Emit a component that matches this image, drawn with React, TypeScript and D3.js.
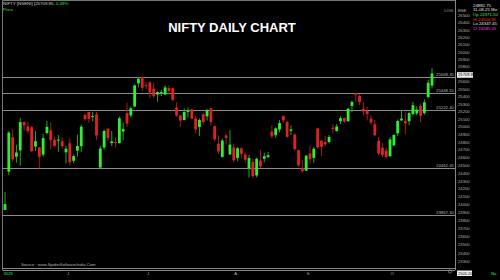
import React from "react";
import * as d3 from "d3";

const dates = [
  "2025-05-09","2025-05-12","2025-05-13","2025-05-14","2025-05-15","2025-05-16","2025-05-19","2025-05-20","2025-05-21","2025-05-22","2025-05-23","2025-05-26","2025-05-27","2025-05-28","2025-05-29","2025-05-30",
  "2025-06-02","2025-06-03","2025-06-04","2025-06-05","2025-06-06","2025-06-09","2025-06-10","2025-06-11","2025-06-12","2025-06-13","2025-06-16","2025-06-17","2025-06-18","2025-06-19","2025-06-20","2025-06-23","2025-06-24","2025-06-25","2025-06-26","2025-06-27","2025-06-30",
  "2025-07-01","2025-07-02","2025-07-03","2025-07-04","2025-07-07","2025-07-08","2025-07-09","2025-07-10","2025-07-11","2025-07-14","2025-07-15","2025-07-16","2025-07-17","2025-07-18","2025-07-21","2025-07-22","2025-07-23","2025-07-24","2025-07-25","2025-07-28","2025-07-29","2025-07-30","2025-07-31",
  "2025-08-01","2025-08-04","2025-08-05","2025-08-06","2025-08-07","2025-08-08","2025-08-11","2025-08-12","2025-08-13","2025-08-14","2025-08-18","2025-08-19","2025-08-20","2025-08-21","2025-08-22","2025-08-25","2025-08-26","2025-08-28","2025-08-29",
  "2025-09-01","2025-09-02","2025-09-03","2025-09-04","2025-09-05","2025-09-08","2025-09-09","2025-09-10","2025-09-11","2025-09-12","2025-09-15","2025-09-16","2025-09-17","2025-09-18","2025-09-19","2025-09-22","2025-09-23","2025-09-24","2025-09-25","2025-09-26","2025-09-29","2025-09-30",
  "2025-10-01","2025-10-03","2025-10-06","2025-10-07","2025-10-08","2025-10-09","2025-10-10","2025-10-13","2025-10-14","2025-10-15","2025-10-16","2025-10-17"
];

const opens = [
  23935.75,24420.10,24864.05,24613.80,24694.45,25064.65,25005.35,24996.20,24744.25,24733.95,24639.50,24919.35,24956.65,24832.50,24825.10,24812.60,
  24669.70,24786.30,24560.45,24691.20,24748.70,25160.10,25196.05,25134.15,25164.45,24473.00,24732.35,24977.85,24788.35,24803.25,24787.65,24939.75,25179.90,25150.35,25268.95,25576.65,25661.65,
  25551.35,25588.30,25505.10,25428.85,25450.45,25427.85,25514.60,25511.65,25255.50,25149.50,25089.50,25196.60,25230.75,25108.55,24999.00,25166.65,25139.35,25243.30,25010.35,24782.45,24609.65,24890.40,24642.25,
  24734.90,24596.65,24720.25,24641.35,24464.20,24544.25,24371.50,24563.35,24586.20,24607.25,24938.20,24891.35,24965.80,25142.00,25064.15,24949.15,24899.50,24695.80,24466.70,
  24432.70,24653.00,24596.95,24980.75,24818.85,24802.60,24802.75,24991.00,24945.50,25074.45,25118.90,25073.60,25276.60,25441.05,25410.20,25238.10,25209.00,25108.75,25034.50,24818.55,24728.55,24691.95,
  24620.55,24759.80,24916.55,25085.30,25079.75,25074.30,25167.65,25177.20,25276.85,25181.95,25394.20,25546.85
];

const highs = [
  24164.25,24944.80,24973.80,24767.55,25116.25,25070.00,25062.95,25010.35,24946.20,24737.50,24909.05,25079.20,25062.90,24864.25,24892.60,24863.95,
  24754.40,24845.10,24644.25,24899.85,25029.50,25160.10,25199.30,25196.20,25196.20,24754.35,24967.10,24982.05,24947.55,24863.10,25136.20,25057.00,25317.70,25266.80,25565.30,25654.20,25669.35,
  25593.40,25608.10,25587.50,25470.25,25489.80,25548.05,25548.70,25524.05,25322.45,25151.10,25245.20,25255.30,25238.35,25144.60,25111.45,25182.00,25233.50,25246.25,25010.35,24889.20,24847.15,24902.30,24956.50,
  24784.15,24736.25,24733.10,24671.40,24634.20,24585.50,24600.85,24702.60,24664.10,24673.65,25022.00,24994.65,25088.70,25153.65,25084.00,25021.55,24919.65,24702.65,24572.65,
  24635.60,24756.10,24737.05,24980.75,24832.35,24885.50,24891.80,25035.70,25037.30,25139.45,25119.40,25251.55,25346.50,25448.95,25428.75,25331.70,25261.90,25149.85,25092.70,24868.60,24791.30,24731.80,
  24867.95,24904.80,25095.95,25220.90,25192.50,25199.25,25330.75,25267.30,25310.35,25365.55,25625.40,25781.50
];

const lows = [
  23935.75,24378.85,24547.50,24535.55,24494.45,24953.05,24916.65,24669.70,24685.35,24462.40,24614.05,24900.50,24704.10,24737.05,24677.30,24717.40,
  24526.15,24502.15,24530.45,24613.75,24671.45,25077.15,25055.45,25075.05,24825.90,24473.00,24703.60,24813.70,24750.45,24733.40,24783.65,24824.85,24999.70,25125.05,25259.90,25523.55,25473.30,
  25501.80,25378.75,25384.35,25331.65,25407.25,25424.15,25424.15,25340.45,25129.00,25001.95,25088.45,25121.05,25101.00,24918.65,24882.30,25035.55,25085.50,25018.70,24806.35,24646.60,24598.60,24771.95,24635.00,
  24535.05,24554.00,24590.30,24539.20,24344.15,24337.50,24347.45,24465.65,24539.30,24596.90,24852.00,24858.80,24929.70,25054.90,24859.15,24894.35,24689.60,24481.60,24404.70,
  24432.70,24522.35,24533.20,24708.60,24621.60,24751.55,24784.20,24915.05,24940.15,25038.05,25049.60,25070.30,25192.05,25329.25,25286.30,25151.05,25084.65,25027.45,24878.30,24629.45,24606.20,24587.70,
  24605.95,24747.55,24881.65,25076.30,24902.65,25024.30,25156.85,25152.30,25060.55,25159.35,25376.20,25508.60
];

const closes = [
  24008.00,24924.70,24578.35,24666.90,25062.10,25019.80,24945.45,24683.90,24813.45,24609.70,24853.15,25001.15,24826.20,24752.45,24833.60,24750.70,
  24716.60,24542.50,24620.20,24750.90,25003.05,25103.20,25104.25,25141.40,24888.20,24718.60,24946.50,24853.40,24812.05,24793.25,25112.40,24971.90,25044.35,25244.75,25549.00,25637.80,25517.05,
  25541.80,25453.40,25405.30,25461.00,25461.30,25522.50,25476.10,25355.25,25149.85,25082.30,25195.80,25212.05,25111.45,24968.40,25090.70,25060.90,25219.90,25062.10,24837.00,24680.90,24821.10,24855.05,24768.35,
  24565.35,24722.75,24649.55,24574.20,24596.15,24363.30,24585.05,24487.40,24619.35,24631.30,24876.95,24980.65,25050.55,25083.75,24870.10,24967.75,24712.05,24500.90,24426.85,
  24625.05,24579.60,24715.05,24734.30,24741.00,24773.15,24868.60,24973.10,25005.50,25114.00,25069.20,25239.10,25330.25,25423.60,25327.05,25202.35,25169.50,25056.90,24890.85,24654.70,24634.90,24611.10,
  24836.30,24894.25,25077.65,25108.30,25046.15,25181.80,25285.35,25227.35,25145.50,25323.55,25585.30,25709.85
];

const levelLines = [25668.35, 25448.55, 25222.40, 24462.45, 23867.30];
const monthLabels = ["J", "J", "A", "S", "O"];
const infoLines = ["24882.75", "11-08-25 Mo", "Op 24371.50", "Hi 24600.85", "Lo 24347.45", "Cl 24585.05"];
const infoColors = ["#e0e0e0", "#e0e0e0", "#3ee83e", "#e83030", "#e0e0e0", "#e040e0"];

const W = 500, H = 280;
const AXIS_X = 455;
const FONT = "Liberation Sans, Arial, sans-serif";

export default function App() {
  const n = dates.length;
  const x = d3.scaleLinear().domain([0, n - 1]).range([5, 432]);
  const y = d3.scaleLog().domain([23300, 26500]).range([261.3, 15.7]);
  const ticks = d3.range(23300, 26501, 100);
  const lastClose = closes[n - 1];
  const lastY = y(lastClose);
  const lastChg = ((closes[n - 1] - closes[n - 2]) / closes[n - 2]) * 100;

  const monthStarts: number[] = [];
  for (let i = 1; i < n; i++) {
    if (dates[i].slice(5, 7) !== dates[i - 1].slice(5, 7)) monthStarts.push(i);
  }

  const bw = 2.8;
  const up = "#2ef02e", dn = "#e02222";
  const upW = "#1fa81f", dnW = "#a81a1a";
  const lab = "#b4b4b4";

  return (
    <svg width={W} height={H} style={{ position: "absolute", left: 0, top: 0, background: "#000" }}>
      <rect x={0} y={0} width={W} height={H} fill="#000" />
      <line x1={2.5} x2={AXIS_X} y1={0.5} y2={0.5} stroke="#777" strokeWidth={1} />
      <line x1={2.5} x2={2.5} y1={0.5} y2={270} stroke="#777" strokeWidth={1} />
      <line x1={AXIS_X + 0.5} x2={AXIS_X + 0.5} y1={0} y2={270} stroke="#888" strokeWidth={1} />
      <line x1={2.5} x2={AXIS_X} y1={268.5} y2={268.5} stroke="#888" strokeWidth={1} />
      <line x1={2.5} x2={AXIS_X} y1={270.5} y2={270.5} stroke="#888" strokeWidth={1} />

      {levelLines.map((v) => (
        <g key={v}>
          <line x1={2.5} x2={AXIS_X} y1={Math.round(y(v)) + 0.5} y2={Math.round(y(v)) + 0.5} stroke="#8c8c8c" strokeWidth={1} />
          <text x={AXIS_X - 1} y={Math.round(y(v)) - 1} fontSize={4.3} fill={lab} textAnchor="end" fontFamily={FONT}>
            {v.toFixed(2)}
          </text>
        </g>
      ))}

      {dates.map((d, i) => {
        const o = opens[i], c = closes[i], h = highs[i], l = lows[i];
        const isUp = c >= o;
        const cx = x(i);
        const top = y(Math.max(o, c));
        const bot = y(Math.min(o, c));
        return (
          <g key={d}>
            <line x1={cx} x2={cx} y1={y(h)} y2={y(l)} stroke={isUp ? upW : dnW} strokeWidth={1} />
            <rect x={cx - bw / 2} y={top} width={bw} height={Math.max(1, bot - top)} fill={isUp ? up : dn} />
          </g>
        );
      })}

      <text x={232} y={32} fontSize={13} fontWeight="bold" fill="#fff" textAnchor="middle" fontFamily={FONT}>
        NIFTY DAILY CHART
      </text>

      <text x={3} y={5} fontSize={4.4} fill="#d0d0d0" fontFamily={FONT}>
        NIFTY [NSENI] [{lastClose.toFixed(2)},{" "}
        <tspan fill="#3ee83e">{lastChg.toFixed(2)}%</tspan>
      </text>
      <text x={3} y={10.5} fontSize={4.4} fill="#3ee83e" fontFamily={FONT}>Price</text>

      <text x={453} y={11.5} fontSize={4.2} fill={lab} textAnchor="end" fontFamily={FONT}>LOG</text>
      <text x={458} y={11.5} fontSize={4.2} fill={lab} fontFamily={FONT}>BSE</text>
      {ticks.map((t) =>
        Math.abs(y(t) - lastY) < 4 ? null : (
          <text key={t} x={458} y={y(t) + 1.5} fontSize={4.2} fill={lab} fontFamily={FONT}>
            {t}
          </text>
        )
      )}
      <rect x={457} y={lastY - 1.3} width={16} height={5.6} fill="#f0f0f0" />
      <text x={458} y={lastY + 2.8} fontSize={4.2} fill="#000" fontFamily={FONT}>
        {lastClose.toFixed(2)}
      </text>

      {infoLines.map((s, i) => (
        <text key={s} x={473} y={6.5 + i * 4.7} fontSize={4.3} fill={infoColors[i]} fontFamily={FONT}>
          {s}
        </text>
      ))}

      <text x={21} y={266} fontSize={4.2} fill={lab} fontFamily={FONT}>
        Source : www.SpiderSoftwareIndia.Com
      </text>

      <text x={3.5} y={275} fontSize={4.2} fill="#3ee83e" fontFamily={FONT}>2025</text>
      {monthStarts.map((idx, k) => (
        <text key={idx} x={x(idx) + 2} y={275} fontSize={4.2} fill={lab} textAnchor="middle" fontFamily={FONT}>
          {monthLabels[k]}
        </text>
      ))}
      <circle cx={450} cy={271.5} r={1.6} fill="none" stroke="#aaa" strokeWidth={0.6} />
      <rect x={457} y={270.5} width={15} height={5.5} fill="#f0f0f0" />
      <text x={458} y={275} fontSize={4.0} fill="#000" fontFamily={FONT}>2505.20</text>
      <text x={491} y={275} fontSize={4.2} fill="#3ee83e" fontFamily={FONT}>Na</text>
    </svg>
  );
}
